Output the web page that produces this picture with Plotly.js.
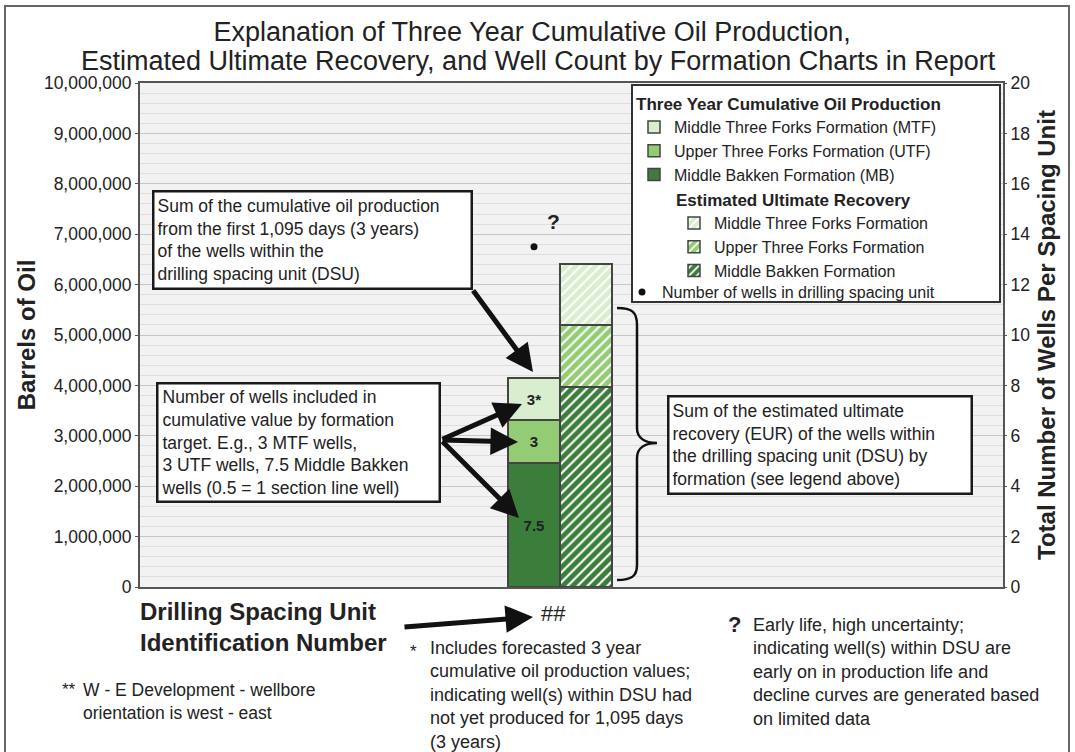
<!DOCTYPE html>
<html>
<head>
<meta charset="utf-8">
<script src="https://cdn.plot.ly/plotly-3.0.1.min.js"></script>
<style>html,body{margin:0;padding:0;background:#fff;}#chart{width:1075px;height:752px;}</style>
</head>
<body>
<div id="chart"></div>
<script>
// ---- data ----
const formationsCum = ['Middle Bakken Formation (MB)', 'Upper Three Forks Formation (UTF)', 'Middle Three Forks Formation (MTF)'];
const formationsEUR = ['Middle Bakken Formation', 'Upper Three Forks Formation', 'Middle Three Forks Formation'];
const cumulativeOil = [2460000, 850000, 840000];      // three year cumulative, barrels
const eurOil = [3970000, 1230000, 1210000];           // estimated ultimate recovery, barrels
const wellLabels = ['7.5', '3', '3*'];                // wells by formation
const totalWells = [13.5];                            // wells in DSU
const dsuLabel = ['##'];
const yTickVals = [0,1000000,2000000,3000000,4000000,5000000,6000000,7000000,8000000,9000000,10000000];
const y2TickVals = [0,2,4,6,8,10,12,14,16,18,20];
const titleLines = ['Explanation of Three Year Cumulative Oil Production,',
  'Estimated Ultimate Recovery, and Well Count by Formation Charts in Report'];

const colors = ['#3b7d3b', '#93cc74', '#d9edcf'];
const FONT = 'Liberation Sans, Arial, Helvetica, sans-serif';
const TXT = '#222222';

// pixel -> paper helpers (plot area 140..1003 x 83..587)
const L = 140, R = 1003, T = 83, B = 587;
const px = x => (x - L) / (R - L);
const py = y => (B - y) / (B - T);

const traces = [];
for (let i = 0; i < 3; i++) {
  traces.push({
    type: 'bar', x: [0], y: [cumulativeOil[i]], width: 1, name: formationsCum[i],
    legend: 'legend',
    marker: {color: colors[i], line: {color: '#444', width: 1.5}},
    text: [wellLabels[i]], texttemplate: '<b>%{text}</b>', textposition: 'inside',
    insidetextanchor: 'middle', textangle: 0, constraintext: 'none',
    textfont: {size: 15, color: TXT, family: FONT},
    hoverinfo: 'skip'
  });
}
for (let i = 0; i < 3; i++) {
  traces.push({
    type: 'bar', x: [1], y: [eurOil[i]], width: 1, name: formationsEUR[i],
    legend: 'legend2',
    marker: {color: colors[i], line: {color: '#444', width: 1.5},
      pattern: {shape: '/', fgcolor: '#ffffff', bgcolor: colors[i], size: 7, solidity: 0.3, fillmode: 'replace'}},
    hoverinfo: 'skip'
  });
}
traces.push({
  type: 'scatter', mode: 'markers', x: [0], y: totalWells, yaxis: 'y2',
  name: 'Number of wells in drilling spacing unit', legend: 'legend3',
  marker: {color: '#111', size: 7}, hoverinfo: 'skip'
});

function pathFrom(cmds) {
  return cmds.map(c => c[0] + ' ' + c.slice(1).map((v, k) => (k % 2 === 0 ? px(v) : py(v)).toFixed(5)).reduce((a, v, k) => a + (k % 2 === 0 ? (k ? ' ' : '') + v : ',' + v), '')).join(' ');
}
const bracePath = pathFrom([
  ['M', 617, 308],
  ['C', 632, 308, 637, 312, 637, 325],
  ['L', 637, 428],
  ['C', 637, 438, 645, 443, 657, 443],
  ['C', 645, 443, 637, 448, 637, 458],
  ['L', 637, 565],
  ['C', 637, 576, 632, 580, 617, 580]
]);

function arrow(tailX, tailY, tipX, tipY) {
  return {xref: 'paper', yref: 'paper', x: px(tipX), y: py(tipY), axref: 'pixel', ayref: 'pixel',
    ax: tailX - tipX, ay: tailY - tipY, text: '', showarrow: true, arrowhead: 2, arrowsize: 1.1,
    arrowwidth: 5, arrowcolor: '#111'};
}
function box(x, y, w, h, text) {
  return {xref: 'paper', yref: 'paper', x: px(x), y: py(y), xanchor: 'left', yanchor: 'top',
    text: text, align: 'left', showarrow: false, bgcolor: '#ffffff', bordercolor: '#1a1a1a',
    borderwidth: 2.5, borderpad: 3, width: w, height: h, font: {size: 17.5, color: TXT, family: FONT}};
}
function note(x, y, text, size, extra) {
  return Object.assign({xref: 'paper', yref: 'paper', x: px(x), y: py(y), xanchor: 'left', yanchor: 'top',
    text: text, align: 'left', showarrow: false, font: {size: size, color: TXT, family: FONT}}, extra || {});
}

const annotations = [
  {xref: 'paper', yref: 'paper', x: px(538), y: py(61), xanchor: 'center', yanchor: 'middle',
    text: titleLines[1], showarrow: false, font: {size: 27, color: TXT, family: FONT}},
  box(152, 190, 310, 89, 'Sum of the cumulative oil production<br>from the first 1,095 days (3 years)<br>of the wells within the<br>drilling spacing unit (DSU)'),
  box(156, 382, 274, 110, 'Number of wells included in<br>cumulative value by formation<br>target. E.g., 3 MTF wells,<br>3 UTF wells, 7.5 Middle Bakken<br>wells (0.5 = 1 section line well)'),
  box(667, 395, 295, 89, 'Sum of the estimated ultimate<br>recovery (EUR) of the wells within<br>the drilling spacing unit (DSU) by<br>formation (see legend above)'),
  arrow(472, 289, 533, 372),
  arrow(441, 440, 522, 404),
  arrow(441, 440, 518, 442),
  arrow(441, 440, 519, 518),
  arrow(403, 627, 533, 617),
  {xref: 'x', yref: 'y2', x: 0.37, y: totalWells[0], yshift: 25, text: '<b>?</b>', showarrow: false,
    font: {size: 21, color: TXT, family: FONT}},
  {xref: 'x', yref: 'paper', x: 0.38, y: py(613), yanchor: 'middle', text: dsuLabel[0], showarrow: false,
    font: {size: 22, color: TXT, family: FONT}},
  note(138, 596, '<b>Drilling Spacing Unit<br>Identification Number</b>', 24),
  note(408, 640, '*', 17),
  note(428, 636, 'Includes forecasted 3 year<br>cumulative oil production values;<br>indicating well(s) within DSU had<br>not yet produced for 1,095 days<br>(3 years)', 18),
  note(726, 610, '<b>?</b>', 22),
  note(751, 613, 'Early life, high uncertainty;<br>indicating well(s) within DSU are<br>early on in production life and<br>decline curves are generated based<br>on limited data', 18),
  note(60, 678, '**', 17),
  note(81, 678, 'W - E Development - wellbore<br>orientation is west - east', 17.5)
];

const shapes = [
  {type: 'rect', xref: 'paper', yref: 'paper', x0: px(632), x1: px(1000), y0: py(302), y1: py(85),
    line: {color: '#333', width: 2}, fillcolor: '#ffffff', layer: 'above'},
  {type: 'path', xref: 'paper', yref: 'paper', path: bracePath, line: {color: '#111', width: 2.5}, layer: 'above'},
  {type: 'rect', xref: 'paper', yref: 'paper', x0: px(5), x1: px(1069), y0: py(770), y1: py(6),
    line: {color: '#666', width: 2}, fillcolor: 'rgba(0,0,0,0)', layer: 'above'}
];

const legendCommon = {xanchor: 'left', yanchor: 'top', bgcolor: 'rgba(0,0,0,0)', borderwidth: 0,
  font: {size: 16, color: TXT, family: FONT}, traceorder: 'reversed', itemclick: false, itemdoubleclick: false};

const layout = {
  width: 1075, height: 752,
  margin: {l: L, r: 1075 - R, t: T, b: 752 - B},
  paper_bgcolor: '#ffffff', plot_bgcolor: '#f2f2f2',
  font: {family: FONT, color: TXT},
  barmode: 'stack', showlegend: true,
  title: {text: titleLines[0],
    font: {size: 27, color: TXT, family: FONT}, x: 0.495, xanchor: 'center', xref: 'container',
    y: 1 - 32 / 752, yanchor: 'middle', yref: 'container'},
  xaxis: {range: [-7.577, 9.019], showticklabels: false, showgrid: false, zeroline: false, ticks: '',
    showline: true, mirror: true, linecolor: '#555', linewidth: 2, fixedrange: true},
  yaxis: {range: [0, 10000000], tickvals: yTickVals, tickformat: ',d', ticks: 'outside', ticklen: 3,
    tickcolor: '#555', tickfont: {size: 17.5, color: TXT, family: FONT}, showline: true, mirror: true,
    linecolor: '#555', linewidth: 2, zeroline: false, gridcolor: '#c6c6c6', gridwidth: 1,
    minor: {dtick: 200000, showgrid: true, gridcolor: '#dedede', ticks: ''},
    title: {text: '<b>Barrels of Oil</b>', font: {size: 24, color: TXT, family: FONT}, standoff: 2}},
  yaxis2: {range: [0, 20], tickvals: y2TickVals, overlaying: 'y', side: 'right', showgrid: false,
    zeroline: false, ticks: 'outside', ticklen: 3, tickcolor: '#555',
    tickfont: {size: 17.5, color: TXT, family: FONT},
    title: {text: '<b>Total Number of Wells Per Spacing Unit</b>', font: {size: 24, color: TXT, family: FONT}, standoff: 8}},
  legend: Object.assign({}, legendCommon, {x: px(634), y: py(88),
    title: {text: '<b>Three Year Cumulative Oil Production</b>', font: {size: 17, color: TXT, family: FONT}}}),
  legend2: Object.assign({}, legendCommon, {x: px(674), y: py(184),
    title: {text: '<b>Estimated Ultimate Recovery</b>', font: {size: 17, color: TXT, family: FONT}}}),
  legend3: Object.assign({}, legendCommon, {x: px(622), y: py(275)}),
  annotations: annotations,
  shapes: shapes
};

Plotly.newPlot('chart', traces, layout, {displayModeBar: false, staticPlot: true});
</script>
</body>
</html>
